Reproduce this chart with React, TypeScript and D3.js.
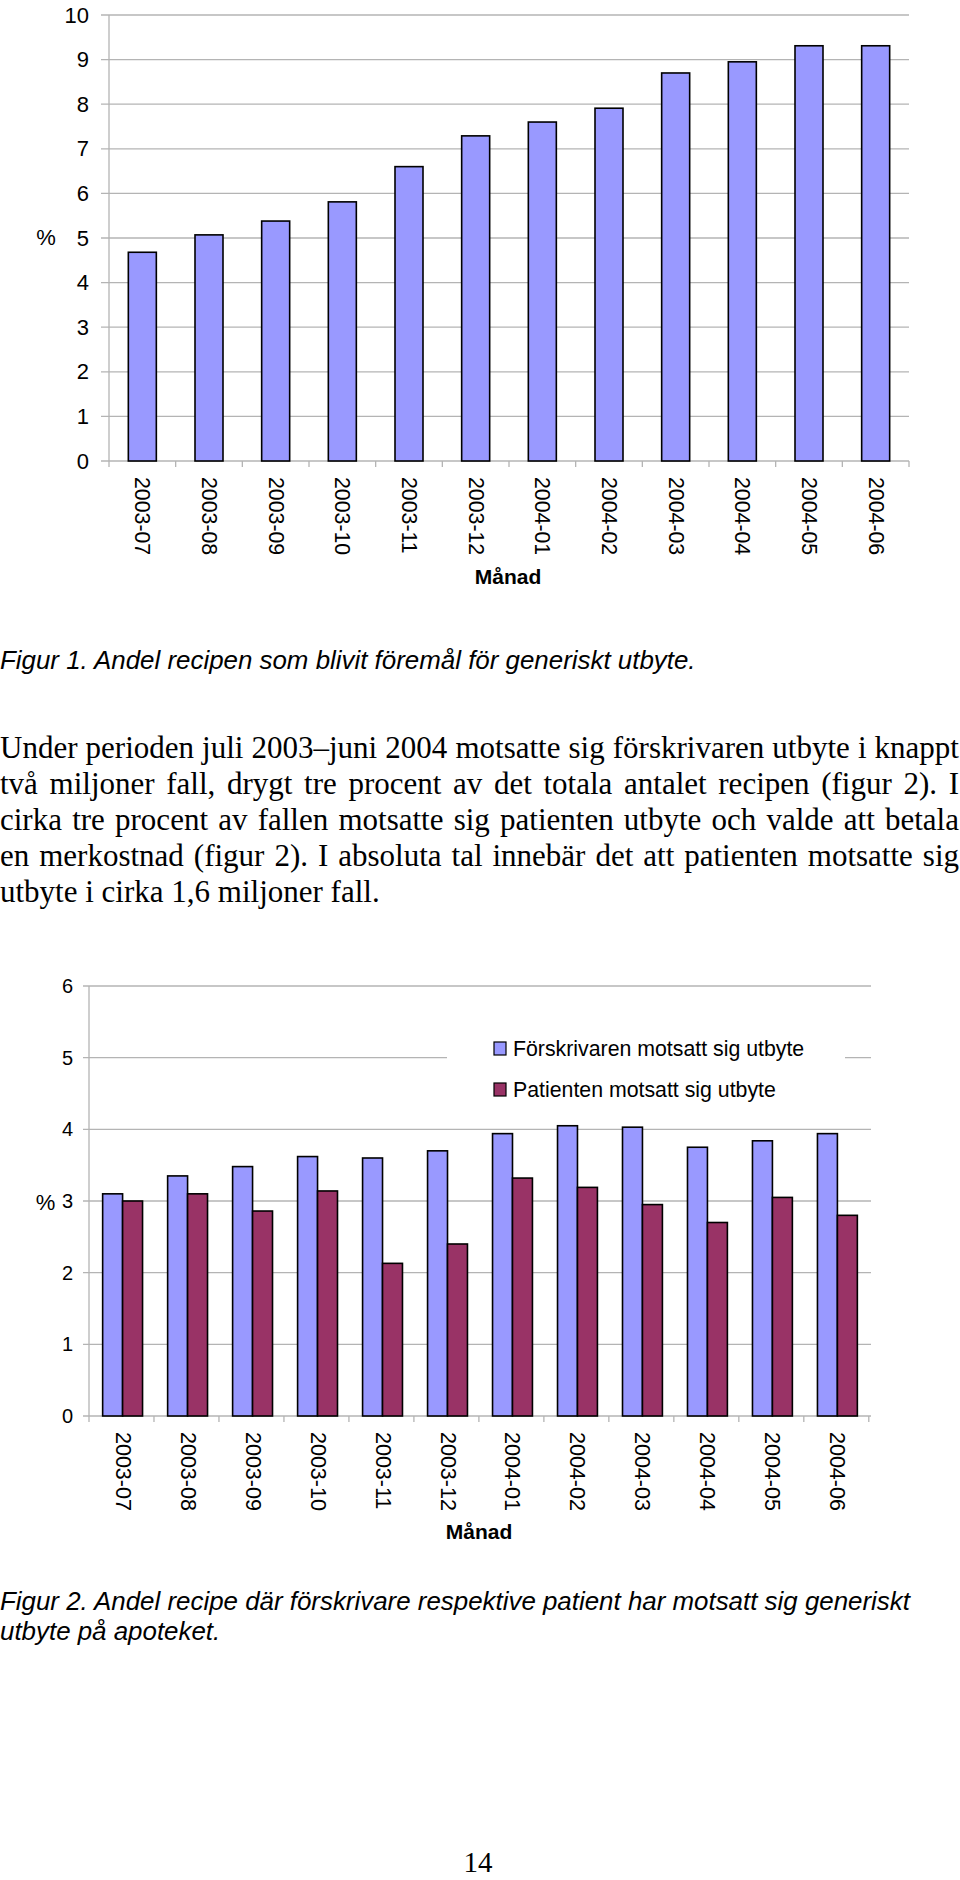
import React, { useEffect, useRef } from 'react';
import * as d3 from 'd3';

const months = ['2003-07', '2003-08', '2003-09', '2003-10', '2003-11', '2003-12', '2004-01', '2004-02', '2004-03', '2004-04', '2004-05', '2004-06'];
const fig1Values = [4.68, 5.07, 5.38, 5.81, 6.6, 7.29, 7.6, 7.91, 8.7, 8.95, 9.31, 9.31];
const fig2Prescriber = [3.1, 3.35, 3.48, 3.62, 3.6, 3.7, 3.94, 4.05, 4.03, 3.75, 3.84, 3.94];
const fig2Patient = [3.0, 3.1, 2.86, 3.14, 2.13, 2.4, 3.32, 3.19, 2.95, 2.7, 3.05, 2.8];
const fig1Ticks = [0, 1, 2, 3, 4, 5, 6, 7, 8, 9, 10];
const fig2Ticks = [0, 1, 2, 3, 4, 5, 6];
const seriesNames = ['Förskrivaren motsatt sig utbyte', 'Patienten motsatt sig utbyte'];
const seriesColors = ['#9999ff', '#993366'];
const xTitle = 'Månad';
const yTitle = '%';
const caption1 = 'Figur 1. Andel recipen som blivit föremål för generiskt utbyte.';
const caption2 = [
  'Figur 2. Andel recipe där förskrivare respektive patient har motsatt sig generiskt',
  'utbyte på apoteket.',
];
const bodyLines = [
  'Under perioden juli 2003\u2013juni 2004 motsatte sig förskrivaren utbyte i knappt',
  'två miljoner fall, drygt tre procent av det totala antalet recipen (figur 2). I',
  'cirka tre procent av fallen motsatte sig patienten utbyte och valde att betala',
  'en merkostnad (figur 2). I absoluta tal innebär det att patienten motsatte sig',
  'utbyte i cirka 1,6 miljoner fall.',
];
const pageNumber = '14';

const SANS = '"Liberation Sans", Arial, Helvetica, sans-serif';
const SERIF = '"Liberation Serif", "Times New Roman", serif';
const GRID = '#b4b4b4';

function Chart1() {
  const left = 109, right = 909, top = 15, bottom = 461;
  const x = d3.scaleBand<string>().domain(months).range([left, right]).paddingInner(0.58).paddingOuter(0.29);
  const y = d3.scaleLinear().domain([0, 10]).range([bottom, top]);
  const step = x.step();
  const edges = d3.range(months.length + 1).map((i) => left + i * step);
  return (
    <g>
      {fig1Ticks.map((t) => (
        <g key={t}>
          <line x1={left - 8} x2={right} y1={y(t)} y2={y(t)} stroke={GRID} strokeWidth={1.3} />
          <text x={89} y={y(t)} textAnchor="end" dominantBaseline="central" fontFamily={SANS} fontSize={22}>{t}</text>
        </g>
      ))}
      <line x1={left} x2={left} y1={top} y2={bottom} stroke={GRID} strokeWidth={1.3} />
      {edges.map((e, i) => (
        <line key={i} x1={e} x2={e} y1={bottom} y2={bottom + 6} stroke={GRID} strokeWidth={1.3} />
      ))}
      {months.map((m, i) => (
        <rect key={m} x={x(m)} y={y(fig1Values[i])} width={x.bandwidth()} height={bottom - y(fig1Values[i])}
          fill={seriesColors[0]} stroke="#000" strokeWidth={1.6} />
      ))}
      {months.map((m) => {
        const cx = (x(m) as number) + x.bandwidth() / 2;
        return (
          <text key={m} transform={`translate(${cx},477) rotate(90)`} dominantBaseline="central" fontFamily={SANS} fontSize={21.3}>{m}</text>
        );
      })}
      <text x={46} y={237} textAnchor="middle" dominantBaseline="central" fontFamily={SANS} fontSize={22}>{yTitle}</text>
      <text x={508} y={584} textAnchor="middle" fontFamily={SANS} fontSize={21} fontWeight="bold">{xTitle}</text>
    </g>
  );
}

function Chart2() {
  const left = 89, right = 871, top = 986, bottom = 1416;
  const x = d3.scaleBand<string>().domain(months).range([left, right]).paddingInner(0.386).paddingOuter(0.21);
  const xs = d3.scaleBand<number>().domain([0, 1]).range([0, x.bandwidth()]);
  const y = d3.scaleLinear().domain([0, 6]).range([bottom, top]);
  const step = x.step();
  const edges = d3.range(months.length + 1).map((i) => left + i * step);
  const series = [fig2Prescriber, fig2Patient];
  return (
    <g>
      {fig2Ticks.map((t) => (
        <g key={t}>
          <line x1={left - 6} x2={right} y1={y(t)} y2={y(t)} stroke={GRID} strokeWidth={1.3} />
          <text x={73} y={y(t)} textAnchor="end" dominantBaseline="central" fontFamily={SANS} fontSize={20}>{t}</text>
        </g>
      ))}
      <line x1={left} x2={left} y1={top} y2={bottom} stroke={GRID} strokeWidth={1.3} />
      {edges.map((e, i) => (
        <line key={i} x1={e} x2={e} y1={bottom} y2={bottom + 6} stroke={GRID} strokeWidth={1.3} />
      ))}
      {months.map((m, i) => (
        <g key={m}>
          {series.map((s, k) => (
            <rect key={k} x={(x(m) as number) + (xs(k) as number)} y={y(s[i])} width={xs.bandwidth()}
              height={bottom - y(s[i])} fill={seriesColors[k]} stroke="#000" strokeWidth={1.6} />
          ))}
        </g>
      ))}
      {months.map((m) => {
        const cx = (x(m) as number) + x.bandwidth() / 2;
        return (
          <text key={m} transform={`translate(${cx},1432) rotate(90)`} dominantBaseline="central" fontFamily={SANS} fontSize={21.5}>{m}</text>
        );
      })}
      <rect x={447} y={1026} width={398} height={84} fill="#fff" />
      {seriesNames.map((n, k) => (
        <g key={n}>
          <rect x={494} y={1042 + k * 41} width={12} height={13} fill={seriesColors[k]} stroke="#000" strokeWidth={1.2} />
          <text x={513} y={1048.5 + k * 41} dominantBaseline="central" fontFamily={SANS} fontSize={21.3}>{n}</text>
        </g>
      ))}
      <text x={45.5} y={1202} textAnchor="middle" dominantBaseline="central" fontFamily={SANS} fontSize={22}>{yTitle}</text>
      <text x={479} y={1539} textAnchor="middle" fontFamily={SANS} fontSize={21} fontWeight="bold">{xTitle}</text>
    </g>
  );
}

export default function App() {
  const ref = useRef<SVGSVGElement>(null);
  useEffect(() => {
    const svg = ref.current;
    if (!svg) return;
    svg.querySelectorAll<SVGTextElement>('text.justify').forEach((el) => {
      el.setAttribute('word-spacing', '0');
      const w = el.getComputedTextLength();
      const spaces = (el.textContent || '').split(' ').length - 1;
      const target = 959;
      if (spaces > 0) el.setAttribute('word-spacing', String((target - w) / spaces));
    });
  }, []);
  return (
    <svg ref={ref} width={960} height={1880} style={{ position: 'absolute', left: 0, top: 0, background: '#fff' }}>
      <rect width={960} height={1880} fill="#fff" />
      <Chart1 />
      <text x={0} y={669} fontFamily={SANS} fontStyle="italic" fontSize={25.9}>{caption1}</text>
      {bodyLines.map((l, i) => (
        <text key={i} className={i < bodyLines.length - 1 ? 'justify' : ''} x={0} y={757.5 + i * 36} fontFamily={SERIF} fontSize={31}>{l}</text>
      ))}
      <Chart2 />
      {caption2.map((l, i) => (
        <text key={i} x={0} y={1610 + i * 30} fontFamily={SANS} fontStyle="italic" fontSize={25.9}>{l}</text>
      ))}
      <text x={478} y={1872} textAnchor="middle" fontFamily={SERIF} fontSize={29}>{pageNumber}</text>
    </svg>
  );
}
